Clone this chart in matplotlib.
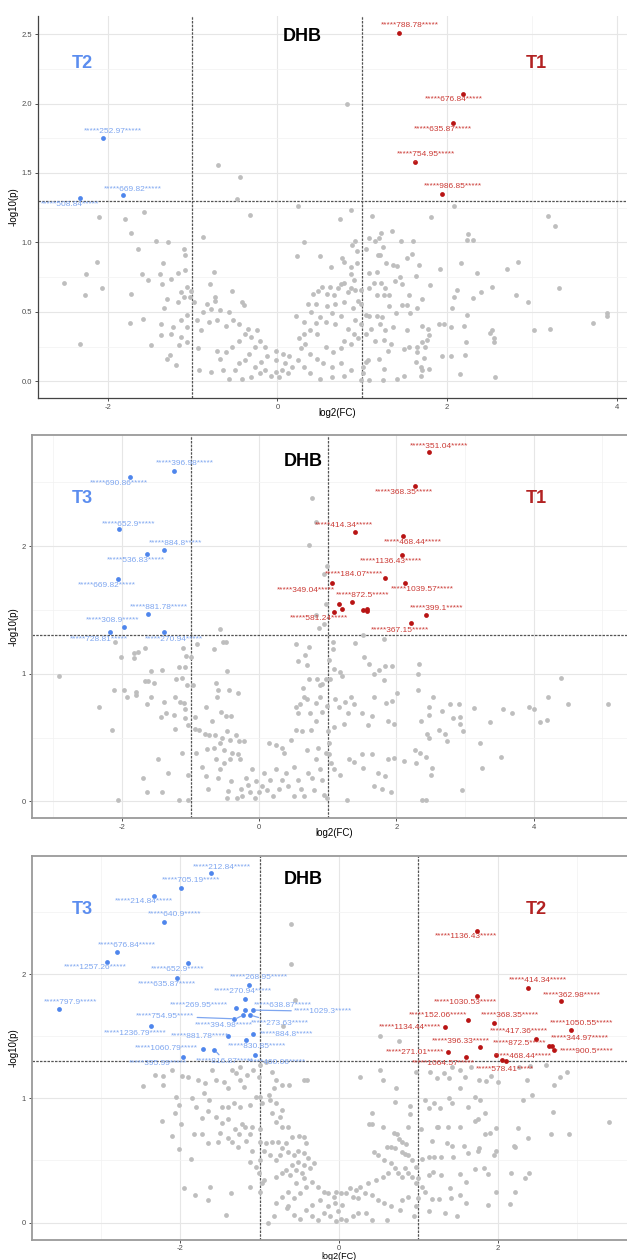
import numpy as np
import matplotlib.pyplot as plt
from matplotlib.ticker import MultipleLocator

plt.rcParams['font.family'] = ['Liberation Sans', 'DejaVu Sans']
plt.rcParams['axes.unicode_minus'] = False

# ---------------- panel 1 : T2 vs T1 ----------------
p1_gray = [(0.82, 2.00), (-0.70, 1.56), (-0.44, 1.47), (-0.47, 1.31), (-0.32, 1.20), (0.24, 1.26),
           (0.87, 1.23), (0.74, 1.17), (2.08, 1.26), (1.81, 1.18), (1.12, 1.19), (3.19, 1.19),
           (3.27, 1.12), (-1.57, 1.22), (-1.79, 1.17), (-2.10, 1.18), (-1.73, 1.07), (-1.43, 1.01),
           (-1.29, 1.00), (-0.88, 1.04), (-1.10, 0.95), (-1.64, 0.95), (-1.09, 0.91), (-1.35, 0.85),
           (-2.12, 0.86), (-2.25, 0.77), (-2.51, 0.71), (-2.07, 0.67), (-2.27, 0.62), (-1.73, 0.63),
           (-1.60, 0.77), (-1.52, 0.73), (-1.38, 0.77), (-1.36, 0.70), (-1.25, 0.74), (-1.17, 0.78),
           (-1.09, 0.80), (-0.75, 0.79), (-0.79, 0.70), (-0.73, 0.61), (-0.53, 0.65), (0.31, 1.00),
           (0.23, 0.90), (0.50, 0.90), (0.63, 0.82), (0.76, 0.89), (0.79, 0.86), (0.87, 0.82),
           (0.91, 1.01), (0.88, 0.98), (0.94, 0.94), (0.94, 0.85), (0.87, 0.77), (0.90, 0.73),
           (0.78, 0.71), (0.75, 0.70), (0.72, 0.67), (0.87, 0.67), (0.92, 0.66), (0.99, 0.66),
           (0.95, 0.58), (0.99, 0.56), (0.83, 0.64), (0.67, 0.62), (0.59, 0.63), (0.48, 0.65),
           (0.42, 0.63), (0.53, 0.68), (0.62, 0.68), (0.36, 0.56), (0.45, 0.56), (0.59, 0.54),
           (0.68, 0.56), (0.79, 0.57), (0.89, 0.53), (0.64, 0.49), (0.75, 0.47), (0.50, 0.46),
           (0.40, 0.50), (0.22, 0.47), (0.31, 0.43), (0.45, 0.42), (0.57, 0.43), (0.68, 0.41),
           (0.83, 0.38), (0.92, 0.44), (0.90, 0.34), (0.95, 0.31), (0.87, 0.27), (0.78, 0.29),
           (0.75, 0.24), (0.66, 0.21), (0.57, 0.25), (0.47, 0.34), (0.38, 0.37), (0.31, 0.34),
           (0.26, 0.31), (0.33, 0.27), (0.28, 0.24), (0.38, 0.20), (0.47, 0.16), (0.54, 0.13),
           (0.64, 0.10), (0.75, 0.13), (0.87, 0.08), (0.78, 0.04), (0.64, 0.03), (0.50, 0.02),
           (0.38, 0.06), (0.31, 0.10), (0.24, 0.15), (0.17, 0.10), (0.12, 0.06), (0.05, 0.08),
           (-0.02, 0.07), (0.02, 0.03), (-0.07, 0.04), (-0.14, 0.08), (-0.21, 0.06), (-0.26, 0.10),
           (-0.19, 0.14), (-0.12, 0.18), (-0.02, 0.15), (0.09, 0.13), (0.14, 0.18), (0.07, 0.20),
           (-0.02, 0.22), (-0.14, 0.25), (-0.21, 0.29), (-0.26, 0.25), (-0.33, 0.20), (-0.38, 0.15),
           (-0.45, 0.13), (-0.50, 0.08), (-0.57, 0.02), (-0.42, 0.02), (-0.31, 0.03), (-0.64, 0.08),
           (-0.68, 0.16), (-0.61, 0.21), (-0.54, 0.25), (-0.45, 0.29), (-0.38, 0.34), (-0.31, 0.32),
           (-0.24, 0.37), (-0.35, 0.38), (-0.45, 0.41), (-0.52, 0.44), (-0.61, 0.40), (-0.71, 0.44),
           (-0.80, 0.43), (-0.90, 0.37), (-0.95, 0.44), (-0.88, 0.50), (-0.78, 0.52), (-0.68, 0.51),
           (-0.57, 0.50), (-0.42, 0.57), (-0.39, 0.55), (-0.83, 0.56), (-0.73, 0.58), (-0.98, 0.57),
           (-0.94, 0.24), (-0.92, 0.08), (-0.78, 0.07), (-0.71, 0.22), (-1.06, 0.28), (-1.13, 0.32),
           (-1.06, 0.39), (-1.13, 0.44), (-1.06, 0.48), (-1.02, 0.65), (-1.03, 0.61), (-1.06, 0.68),
           (-1.13, 0.64), (-1.17, 0.57), (-1.10, 0.61), (-1.23, 0.39), (-1.25, 0.34), (-1.16, 0.26),
           (-1.37, 0.41), (-1.37, 0.33), (-1.30, 0.16), (-1.26, 0.19), (-1.19, 0.12), (-1.49, 0.26),
           (-1.58, 0.45), (-1.74, 0.42), (-2.32, 0.27), (-1.34, 0.53), (-1.30, 0.59),
           (1.05, 0.95), (1.08, 1.03), (1.15, 1.01), (1.20, 1.03), (1.22, 1.07), (1.35, 1.08),
           (1.25, 0.97), (1.19, 0.91), (1.21, 0.91), (1.28, 0.85), (1.36, 0.84), (1.41, 0.83),
           (1.46, 1.01), (1.60, 1.01), (1.53, 0.89), (1.59, 0.92), (1.67, 0.84), (1.45, 0.75),
           (1.63, 0.76), (1.08, 0.78), (1.18, 0.79), (1.14, 0.71), (1.22, 0.71), (1.27, 0.67),
           (1.39, 0.72), (1.47, 0.70), (1.08, 0.67), (1.18, 0.62), (1.26, 0.62), (1.32, 0.62),
           (1.55, 0.62), (1.71, 0.59), (1.80, 0.69), (1.92, 0.81), (2.16, 0.85), (2.35, 0.78),
           (2.12, 0.66), (2.08, 0.61), (2.06, 0.53), (2.31, 0.60), (2.40, 0.64), (2.53, 0.68),
           (2.71, 0.81), (2.83, 0.86), (2.81, 0.62), (2.95, 0.57), (2.23, 1.02), (2.25, 1.06),
           (2.30, 1.02), (1.05, 0.48), (1.08, 0.47), (1.17, 0.47), (1.23, 0.46), (1.32, 0.54),
           (1.40, 0.49), (1.47, 0.55), (1.53, 0.55), (1.56, 0.49), (1.64, 0.53), (0.99, 0.41),
           (1.10, 0.38), (1.21, 0.41), (1.27, 0.37), (1.36, 0.39), (1.53, 0.37), (1.71, 0.40),
           (1.77, 0.38), (1.90, 0.41), (1.96, 0.41), (2.05, 0.39), (2.20, 0.40), (2.23, 0.48),
           (2.50, 0.35), (2.53, 0.37), (2.55, 0.31), (2.55, 0.28), (3.02, 0.37), (3.21, 0.38),
           (3.32, 0.67), (3.72, 0.42), (3.88, 0.49), (3.89, 0.47), (1.05, 0.34), (1.15, 0.29),
           (1.26, 0.30), (1.34, 0.27), (1.30, 0.22), (1.49, 0.23), (1.55, 0.25), (1.65, 0.25),
           (1.71, 0.28), (1.74, 0.25), (1.76, 0.30), (1.79, 0.33), (1.65, 0.21), (1.73, 0.17),
           (1.63, 0.14), (1.69, 0.10), (1.71, 0.08), (1.69, 0.04), (1.79, 0.09), (1.94, 0.18),
           (2.05, 0.18), (2.22, 0.28), (2.21, 0.19), (2.15, 0.05), (2.57, 0.03), (1.04, 0.14),
           (1.01, 0.10), (1.07, 0.15), (1.20, 0.16), (1.26, 0.09), (1.24, 0.01), (1.08, 0.01),
           (1.41, 0.02), (1.49, 0.04), (1.01, 0.06), (0.99, 0.01)]

p1_down_names = ['252.97', '669.82', '508.84']
p1_down_x = [-2.06, -1.82, -2.32]
p1_down_y = [1.75, 1.34, 1.32]
p1_up_names = ['788.78', '676.84', '635.87', '754.95', '986.85']
p1_up_x = [1.43, 2.19, 2.07, 1.62, 1.94]
p1_up_y = [2.51, 2.07, 1.86, 1.58, 1.35]

# ---------------- panel 2 : T3 vs T1 ----------------
p2_gray = [(0.77, 2.38), (0.73, 2.01), (0.83, 2.19), (0.99, 1.84), (0.95, 1.78), (0.97, 1.55),
           (0.83, 1.46), (0.87, 1.36), (0.94, 1.39), (-0.57, 1.35), (-2.10, 1.25), (-2.02, 1.13),
           (-1.83, 1.16), (-1.77, 1.17), (-1.83, 1.12), (-1.66, 1.20), (-1.11, 1.20), (-0.90, 1.23),
           (-1.06, 1.14), (-1.00, 1.13), (-0.66, 1.19), (-0.52, 1.25), (-0.48, 1.25), (-1.57, 1.02),
           (-1.41, 1.03), (-1.17, 1.05), (-1.08, 1.05), (-0.47, 1.02), (-2.92, 0.98), (-2.33, 0.74),
           (-2.15, 0.56), (-2.12, 0.87), (-1.97, 0.87), (-1.92, 0.82), (-1.80, 0.86), (-1.80, 0.83),
           (-1.66, 0.94), (-1.62, 0.94), (-1.53, 0.93), (-1.63, 0.76), (-1.57, 0.82), (-1.38, 0.78),
           (-1.43, 0.66), (-1.36, 0.69), (-1.24, 0.68), (-1.21, 0.96), (-1.12, 0.97), (-1.23, 0.82),
           (-1.15, 0.78), (-1.10, 0.77), (-1.08, 0.72), (-1.05, 0.91), (-0.97, 0.91), (-1.08, 0.65),
           (-1.04, 0.60), (-1.22, 0.57), (-0.93, 0.66), (-0.78, 0.74), (-0.63, 0.93), (-0.60, 0.87),
           (-0.61, 0.82), (-0.44, 0.87), (-0.31, 0.85), (-0.68, 0.63), (-0.55, 0.70), (-0.48, 0.67),
           (-0.41, 0.67), (-0.94, 0.57), (-0.87, 0.56), (-0.79, 0.53), (-0.73, 0.52), (-0.64, 0.52),
           (-0.54, 0.50), (-0.47, 0.55), (-0.34, 0.52), (-0.57, 0.46), (-0.43, 0.48), (-0.30, 0.47),
           (-0.22, 0.47), (-0.66, 0.42), (-0.51, 0.40), (-0.40, 0.38), (-0.31, 0.37), (-0.28, 0.33),
           (-0.43, 0.33), (-0.51, 0.30), (-0.63, 0.33), (-0.76, 0.41), (-0.83, 0.27), (-0.92, 0.38),
           (-1.13, 0.38), (-1.17, 0.01), (-1.04, 0.01), (-1.04, 0.21), (-1.33, 0.22), (-1.48, 0.33),
           (-1.69, 0.18), (-1.63, 0.07), (-1.41, 0.07), (-2.05, 0.01), (-0.78, 0.20), (-0.75, 0.10),
           (-0.60, 0.18), (-0.57, 0.25), (-0.41, 0.16), (-0.45, 0.08), (-0.47, 0.03), (-0.33, 0.03),
           (-0.27, 0.10), (-0.19, 0.18), (-0.10, 0.25), (-0.16, 0.13), (-0.25, 0.04), (-0.13, 0.07),
           (-0.06, 0.03), (0.00, 0.07), (0.04, 0.12), (-0.05, 0.16), (0.07, 0.22), (0.16, 0.17),
           (0.12, 0.09), (0.20, 0.04), (0.29, 0.10), (0.33, 0.17), (0.24, 0.25), (0.39, 0.22),
           (0.42, 0.12), (0.51, 0.04), (0.61, 0.10), (0.57, 0.17), (0.51, 0.27), (0.36, 0.38),
           (0.33, 0.42), (0.14, 0.46), (0.24, 0.44), (0.47, 0.48), (0.54, 0.56), (0.62, 0.55),
           (0.76, 0.56), (0.57, 0.69), (0.59, 0.76), (0.54, 0.74), (0.70, 0.80), (0.65, 0.82),
           (0.64, 0.89), (0.89, 0.91), (0.92, 0.92), (0.85, 0.96), (0.73, 0.96), (0.97, 0.96),
           (1.03, 0.96), (0.89, 0.82), (0.83, 0.77), (0.74, 0.69), (0.83, 0.63), (0.92, 0.70),
           (0.99, 0.75), (1.11, 0.80), (1.17, 0.74), (1.25, 0.78), (1.34, 0.82), (1.38, 0.76),
           (1.29, 0.69), (1.24, 0.61), (1.09, 0.58), (1.01, 0.55), (1.02, 0.46), (0.97, 0.38),
           (0.86, 0.42), (0.83, 0.33), (0.89, 0.25), (0.92, 0.17), (0.77, 0.18), (0.80, 0.09),
           (0.94, 0.05), (0.99, 0.03), (0.65, 0.04), (0.71, 0.22), (0.69, 0.40), (1.02, 0.37),
           (1.04, 0.30), (1.09, 0.25), (1.18, 0.21), (1.31, 0.33), (1.38, 0.31), (1.28, 0.01),
           (1.50, 0.37), (1.64, 0.37), (1.51, 0.26), (1.73, 0.22), (1.67, 0.12), (1.79, 0.10),
           (1.92, 0.07), (1.84, 0.20), (1.88, 0.33), (1.97, 0.34), (2.11, 0.32), (2.27, 0.40),
           (2.34, 0.38), (2.43, 0.35), (2.29, 0.30), (2.52, 0.26), (2.51, 0.21), (2.37, 0.01),
           (2.43, 0.01), (2.96, 0.09), (3.25, 0.26), (3.53, 0.35), (3.22, 0.46), (2.73, 0.47),
           (2.71, 0.53), (2.62, 0.56), (2.97, 0.55), (2.93, 0.61), (2.83, 0.65), (2.92, 0.66),
           (2.66, 0.71), (2.78, 0.76), (2.91, 0.76), (3.13, 0.73), (3.37, 0.62), (3.56, 0.72),
           (3.68, 0.69), (3.93, 0.74), (4.01, 0.72), (4.09, 0.62), (4.19, 0.64), (4.21, 0.82),
           (4.40, 0.97), (4.50, 0.76), (5.08, 0.76), (2.36, 0.63), (2.48, 0.68), (2.48, 0.74),
           (2.53, 0.82), (2.31, 0.87), (2.32, 1.00), (2.33, 1.08), (2.45, 0.53), (2.48, 0.50),
           (2.01, 0.85), (1.93, 0.79), (1.85, 0.77), (1.82, 0.95), (1.84, 1.06), (1.94, 1.06),
           (1.74, 1.03), (1.67, 1.00), (1.60, 1.08), (1.53, 1.13), (1.40, 1.24), (1.52, 1.30),
           (1.82, 1.27), (1.18, 1.01), (1.21, 0.98), (1.08, 1.19), (1.08, 1.25), (1.67, 0.82),
           (1.58, 0.60), (1.65, 0.67), (1.50, 0.69), (1.88, 0.63), (1.96, 0.61), (0.54, 1.23),
           (0.72, 1.21), (0.67, 1.15), (0.57, 1.10), (0.69, 1.07), (1.02, 1.11), (1.09, 1.04)]

p2_down_names = ['396.98', '690.86', '652.9', '884.8', '536.83', '669.82', '881.78', '308.9',
                 '728.81', '270.94']
p2_down_x = [-1.24, -1.88, -2.04, -1.38, -1.64, -2.06, -1.62, -1.97, -2.17, -1.39]
p2_down_y = [2.59, 2.54, 2.13, 1.97, 1.94, 1.74, 1.47, 1.37, 1.33, 1.33]
p2_up_names = ['351.04', '368.35', '414.34', '468.44', '1136.43', '184.07', '349.04', '1039.57',
               '872.5', '581.24', '399.1', '367.15', '', '', '', '', '']
p2_up_x = [2.47, 2.27, 1.39, 2.09, 2.08, 1.83, 1.06, 2.12, 1.35, 1.09, 2.43, 2.21,
           1.17, 1.21, 1.51, 1.57, 1.57]
p2_up_y = [2.74, 2.47, 2.11, 2.08, 1.93, 1.75, 1.71, 1.71, 1.56, 1.48, 1.46, 1.40,
           1.55, 1.51, 1.50, 1.51, 1.49]

# ---------------- panel 3 : T3 vs T2 ----------------
p3_gray = [(-0.61, 2.40), (-0.61, 2.08), (-0.56, 1.79), (-0.70, 1.58), (0.52, 1.50), (0.75, 1.46),
           (0.27, 1.17), (0.52, 1.23), (0.55, 1.15), (0.72, 1.08), (0.71, 0.97), (0.90, 0.94),
           (0.90, 0.87), (0.41, 0.88), (0.38, 0.79), (0.41, 0.79), (0.56, 0.77), (0.87, 0.77),
           (0.69, 0.72), (0.73, 0.71), (0.76, 0.67), (0.79, 0.65), (0.85, 0.63), (0.83, 0.55),
           (0.87, 0.54), (0.60, 0.61), (0.65, 0.61), (0.70, 0.60), (0.80, 0.57), (0.44, 0.57),
           (0.49, 0.54), (0.57, 0.50), (0.65, 0.48), (0.70, 0.44), (0.74, 0.40), (0.80, 0.37),
           (0.83, 0.44), (0.87, 0.40), (0.92, 0.37), (0.97, 0.32), (0.97, 0.45), (0.92, 0.50),
           (0.62, 0.40), (0.55, 0.37), (0.47, 0.34), (0.37, 0.32), (0.27, 0.29), (0.21, 0.26),
           (0.14, 0.28), (0.09, 0.24), (0.17, 0.21), (0.24, 0.20), (0.33, 0.24), (0.42, 0.22),
           (0.49, 0.18), (0.57, 0.16), (0.65, 0.13), (0.77, 0.10), (0.60, 0.02), (0.42, 0.02),
           (0.34, 0.08), (0.24, 0.08), (0.17, 0.05), (0.09, 0.02), (0.02, 0.03), (-0.04, 0.01),
           (-0.11, 0.05), (-0.01, 0.09), (0.04, 0.14), (-0.05, 0.16), (-0.14, 0.13), (-0.19, 0.08),
           (-0.26, 0.02), (-0.34, 0.05), (-0.41, 0.10), (-0.34, 0.14), (-0.24, 0.18), (-0.14, 0.24),
           (-0.04, 0.25), (0.03, 0.24), (-0.06, 0.21), (-0.19, 0.25), (-0.26, 0.29), (-0.34, 0.33),
           (-0.41, 0.29), (-0.49, 0.24), (-0.57, 0.20), (-0.64, 0.13), (-0.49, 0.03), (-0.57, 0.06),
           (-0.65, 0.12), (-0.79, 0.16), (-0.90, 0.00), (-0.82, 0.05), (-0.72, 0.21), (-0.64, 0.25),
           (-0.54, 0.32), (-0.44, 0.36), (-0.47, 0.40), (-0.54, 0.42), (-0.62, 0.38), (-0.72, 0.40),
           (-0.79, 0.37), (-0.67, 0.42), (-0.59, 0.46), (-0.52, 0.49), (-0.44, 0.46), (-0.36, 0.44),
           (-0.31, 0.48), (-0.39, 0.52), (-0.44, 0.56), (-0.52, 0.58), (-0.57, 0.54), (-0.64, 0.57),
           (-0.72, 0.60), (-0.74, 0.54), (-0.79, 0.50), (-0.87, 0.54), (-0.94, 0.58), (-0.99, 0.65),
           (-0.92, 0.64), (-0.84, 0.65), (-0.77, 0.65), (-0.67, 0.64), (-0.59, 0.69), (-0.50, 0.70),
           (-0.44, 0.69), (-0.41, 0.64), (-0.64, 0.77), (-0.72, 0.77), (-0.79, 0.81), (-0.84, 0.88),
           (-0.74, 0.85), (-0.72, 0.91), (-0.79, 0.96), (-0.87, 0.99), (-0.88, 1.03), (-0.82, 1.08),
           (-0.79, 1.15), (-0.72, 1.11), (-0.63, 1.11), (-0.44, 1.15), (-0.40, 1.15), (-0.92, 1.29),
           (-0.99, 1.27), (-1.01, 1.17), (-0.84, 1.21), (-0.99, 1.01), (-0.97, 0.96), (-0.99, 0.75),
           (-0.97, 0.32), (-0.94, 0.34), (-0.99, 0.50), (-1.01, 0.40), (-0.99, 0.25), (-1.05, 0.45),
           (-2.47, 1.10), (-2.32, 1.19), (-2.22, 1.18), (-2.22, 1.11), (-2.11, 1.23), (-1.98, 1.18),
           (-2.06, 1.01), (-2.02, 0.95), (-2.23, 0.82), (-2.07, 0.88), (-1.99, 0.79), (-2.10, 0.70),
           (-2.02, 0.59), (-1.86, 0.51), (-1.95, 0.28), (-1.82, 0.22), (-1.65, 0.18), (-1.63, 0.29),
           (-1.42, 0.06), (-1.36, 0.24), (-1.12, 0.49), (-1.12, 0.29), (-1.90, 1.17), (-1.78, 1.15),
           (-1.70, 1.04), (-1.85, 1.00), (-1.80, 0.93), (-1.73, 0.84), (-1.83, 0.71), (-1.73, 0.71),
           (-1.65, 0.64), (-1.60, 1.23), (-1.55, 1.15), (-1.45, 1.13), (-1.40, 1.08), (-1.30, 1.20),
           (-1.25, 1.15), (-1.20, 1.09), (-1.16, 1.19), (-1.08, 1.23), (-1.05, 1.01), (-1.12, 0.95),
           (-1.22, 0.79), (-1.19, 0.77), (-1.10, 0.77), (-1.25, 0.93), (-1.32, 0.96), (-1.40, 0.93),
           (-1.48, 0.93), (-1.55, 0.85), (-1.48, 0.80), (-1.40, 0.83), (-1.50, 0.72), (-1.40, 0.68),
           (-1.31, 0.75), (-1.26, 0.71), (-1.17, 0.66), (-1.12, 0.71), (-1.10, 0.58), (-1.27, 0.61),
           (-1.35, 0.65), (-1.53, 0.65), (-1.65, 0.90), (-1.64, 0.99), (-1.69, 1.12), (-1.25, 1.25),
           (-1.35, 1.23),
           (0.97, 1.21), (1.15, 1.21), (1.24, 1.16), (1.32, 1.20), (1.38, 1.16), (1.43, 1.25),
           (1.52, 1.23), (1.59, 1.17), (1.66, 1.25), (1.76, 1.15), (1.85, 1.14), (1.92, 1.18),
           (2.00, 1.13), (2.27, 1.25), (2.41, 1.26), (2.61, 1.27), (2.78, 1.17), (2.87, 1.21),
           (2.71, 1.11), (2.37, 1.15), (2.43, 1.03), (2.32, 0.99), (2.70, 0.89), (2.67, 0.71),
           (2.90, 0.71), (3.40, 0.81), (2.38, 0.68), (2.26, 0.76), (2.21, 0.62), (2.22, 0.61),
           (1.98, 0.58), (1.98, 0.76), (1.84, 0.71), (1.90, 0.72), (1.71, 0.82), (1.75, 0.83),
           (1.84, 0.88), (1.62, 0.93), (1.72, 1.01), (1.78, 0.99), (1.52, 1.08), (1.43, 0.96),
           (1.38, 1.00), (1.27, 0.92), (1.20, 0.96), (1.14, 0.92), (1.08, 0.99), (1.25, 0.77),
           (1.23, 0.77), (1.37, 0.77), (1.52, 0.77), (1.17, 0.66), (1.03, 0.75), (1.36, 0.64),
           (1.43, 0.62), (1.57, 0.62), (1.62, 0.56), (1.75, 0.58), (1.77, 0.60), (1.83, 0.44),
           (1.95, 0.54), (1.04, 0.51), (1.13, 0.53), (1.20, 0.53), (1.28, 0.53), (1.44, 0.53),
           (1.18, 0.41), (1.13, 0.38), (1.00, 0.36), (1.04, 0.29), (1.08, 0.25), (1.17, 0.19),
           (1.00, 0.20), (1.26, 0.19), (1.41, 0.20), (1.29, 0.38), (1.40, 0.28), (1.52, 0.39),
           (1.60, 0.33), (1.53, 0.22), (1.60, 0.16), (1.72, 0.43), (1.88, 0.39), (1.98, 0.25),
           (2.17, 0.40), (2.22, 0.25), (2.35, 0.36), (2.40, 0.40), (1.88, 0.14), (2.16, 0.15),
           (1.49, 0.05), (1.33, 0.08), (1.13, 0.09), (0.95, 0.05), (0.80, 0.18), (0.87, 0.21),
           (0.97, 0.13)]

p3_down_names = ['212.84', '705.19', '214.84', '640.9', '676.84', '1257.26', '652.9', '635.87',
                 '797.9', '268.95', '270.94', '269.95', '638.87', '1029.3', '394.98', '754.95',
                 '273.63', '1236.79', '881.78', '884.8', '830.85', '1060.79', '816.87', '395.99',
                 '460.06']
p3_down_x = [-1.61, -1.99, -2.33, -2.21, -2.80, -2.93, -1.90, -2.04, -3.53, -1.14, -1.18, -1.30,
             -1.19, -1.08, -1.21, -1.32, -1.12, -2.37, -1.40, -1.08, -1.17, -1.72, -1.57, -1.97,
             -1.06]
p3_down_y = [2.81, 2.69, 2.63, 2.42, 2.18, 2.10, 2.09, 1.97, 1.72, 1.91, 1.80, 1.73, 1.71, 1.71,
             1.67, 1.64, 1.67, 1.58, 1.50, 1.52, 1.47, 1.40, 1.39, 1.33, 1.35]
p3_up_names = ['1136.43', '414.34', '362.98', '1030.53', '152.06', '368.35', '1134.44', '1050.55',
               '417.36', '396.33', '344.97', '', '900.5', '872.5', '271.01', '468.44', '1064.57',
               '578.41']
p3_up_x = [1.74, 2.38, 2.80, 1.74, 1.63, 1.95, 1.33, 2.92, 2.48, 1.78, 2.65, 2.68, 2.71, 1.98,
           1.37, 2.06, 1.60, 2.10]
p3_up_y = [2.35, 1.89, 1.78, 1.82, 1.63, 1.61, 1.57, 1.55, 1.48, 1.41, 1.42, 1.42, 1.39, 1.35,
           1.37, 1.31, 1.33, 1.30]

# ---------------- layout (label placement, panel geometry) ----------------
p1_down_lab = [(-1.94, 1.80), (-1.70, 1.38), (-2.44, 1.27)]
p1_up_lab = [(1.56, 2.56), (2.08, 2.03), (1.95, 1.81), (1.75, 1.63), (2.07, 1.40)]
p2_down_lab = [(-1.08, 2.65), (-2.04, 2.49), (-1.90, 2.17), (-1.22, 2.02), (-1.80, 1.89),
               (-2.22, 1.69), (-1.46, 1.52), (-2.13, 1.42), (-2.33, 1.27), (-1.24, 1.27)]
p2_up_lab = [(2.62, 2.78), (2.11, 2.42), (1.23, 2.16), (2.24, 2.03), (1.92, 1.88), (1.38, 1.78),
             (0.68, 1.65), (2.38, 1.66), (1.51, 1.61), (0.87, 1.43), (2.58, 1.51), (2.05, 1.34),
             None, None, None, None, None]
p3_down_lab = [(-1.47, 2.86), (-1.86, 2.75), (-2.46, 2.58), (-2.07, 2.48), (-2.67, 2.23),
               (-3.07, 2.05), (-2.03, 2.04), (-2.17, 1.92), (-3.39, 1.77), (-1.01, 1.97),
               (-1.21, 1.86), (-1.76, 1.75), (-0.71, 1.75), (-0.20, 1.70), (-1.45, 1.59),
               (-2.19, 1.66), (-0.74, 1.60), (-2.57, 1.52), (-1.75, 1.50), (-0.66, 1.51),
               (-1.04, 1.42), (-2.17, 1.40), (-1.44, 1.30), (-2.28, 1.28), (-0.78, 1.29)]
p3_up_lab = [(1.60, 2.30), (2.51, 1.95), (2.93, 1.83), (1.59, 1.77), (1.25, 1.67), (2.16, 1.67),
             (0.90, 1.57), (3.06, 1.60), (2.27, 1.54), (1.54, 1.46), (3.03, 1.48), None,
             (3.12, 1.38), (2.28, 1.44), (0.96, 1.37), (2.32, 1.34), (1.32, 1.28), (2.09, 1.23)]
with_segment = {'754.95', '394.98', '273.63', '1029.3', '816.87', '900.5'}

GRAY = '#BEBEBE'
BLUE_PT, BLUE_TX = '#4F86EC', '#7EA6F0'
RED_PT, RED_TX = '#B81414', '#CB3A35'

fig = plt.figure(figsize=(6.27, 12.6), dpi=100)


def px_axes(left, top, bottom, right=627):
    return fig.add_axes([left / 627, 1 - bottom / 1260, (right - left) / 627, (bottom - top) / 1260])


def draw_labels(ax, xs, ys, names, labpos, color):
    for x, y, n, lp in zip(xs, ys, names, labpos):
        if not n or lp is None:
            continue
        s = '*****' + n + '*****'
        if n in with_segment:
            ax.annotate(s, xy=(x, y), xytext=lp, ha='center', va='center', fontsize=6.0,
                        color=color, arrowprops=dict(arrowstyle='-', color=color, lw=0.9,
                                                     shrinkA=0, shrinkB=2))
        else:
            ax.text(lp[0], lp[1], s, ha='center', va='center', fontsize=6.0, color=color)


def panel(ax, gray, dn, up, xlim, ylim, yminor, ystep, left_name, right_name, txt_pos,
          xlabel_xy, full_box, xlabel_size=7):
    g = np.array(gray)
    ax.set_xlim(*xlim)
    ax.set_ylim(*ylim)
    ax.xaxis.set_major_locator(MultipleLocator(2))
    ax.xaxis.set_minor_locator(MultipleLocator(1))
    ax.yaxis.set_major_locator(MultipleLocator(ystep))
    ax.yaxis.set_minor_locator(MultipleLocator(yminor))
    ax.grid(which='major', color='#E6E6E6', lw=0.8)
    ax.grid(which='minor', color='#F2F2F2', lw=0.5)
    ax.set_axisbelow(True)
    ax.tick_params(which='minor', length=0)
    ax.tick_params(which='major', length=2.5, width=0.6, labelsize=5.5, labelcolor='#4D4D4D',
                   color='#333333', pad=2)
    if ystep == 0.5:
        ax.yaxis.set_major_formatter(plt.FormatStrFormatter('%.1f'))
    else:
        ax.yaxis.set_major_formatter(plt.FormatStrFormatter('%d'))
    ax.axvline(-1, color='#555555', ls=(0, (2, 1)), lw=0.9)
    ax.axvline(1, color='#555555', ls=(0, (2, 1)), lw=0.9)
    ax.axhline(-np.log10(0.05), color='#555555', ls=(0, (2, 1)), lw=0.9)
    ax.scatter(g[:, 0], g[:, 1], s=12, color=GRAY, lw=0, zorder=2)
    dx, dy, dnames, dlab = dn
    ux, uy, unames, ulab = up
    ax.scatter(dx, dy, s=12, color=BLUE_PT, lw=0, zorder=3)
    ax.scatter(ux, uy, s=12, color=RED_PT, lw=0, zorder=3)
    draw_labels(ax, dx, dy, dnames, dlab, BLUE_TX)
    draw_labels(ax, ux, uy, unames, ulab, RED_TX)
    (lx, ly), (rx, ry), (cx, cy) = txt_pos
    ax.text(lx, ly, left_name, color='#5B8DEF', fontsize=13, fontweight='bold', ha='center', va='center')
    ax.text(rx, ry, right_name, color='#B22222', fontsize=13, fontweight='bold', ha='center', va='center')
    ax.text(cx, cy, 'DHB', color='black', fontsize=13, fontweight='bold', ha='center', va='center')
    ax.set_xlabel('log2(FC)', fontsize=xlabel_size)
    ax.set_ylabel('-log10(p)', fontsize=7, labelpad=2)
    ax.xaxis.set_label_coords(*xlabel_xy)
    ax.spines['right'].set_visible(False)
    if full_box:
        for sp in ('left', 'bottom', 'top'):
            ax.spines[sp].set_color('#9A9A9A')
            ax.spines[sp].set_linewidth(1.3)
    else:
        ax.spines['top'].set_visible(False)
        for sp in ('left', 'bottom'):
            ax.spines[sp].set_color('#444444')
            ax.spines[sp].set_linewidth(0.9)


ax1 = px_axes(38, 16, 398)
panel(ax1, p1_gray, (p1_down_x, p1_down_y, p1_down_names, p1_down_lab),
      (p1_up_x, p1_up_y, p1_up_names, p1_up_lab), (-2.82, 4.12), (-0.12, 2.63), 0.25, 0.5,
      'T2', 'T1', ((-2.30, 2.29), (3.05, 2.29), (0.29, 2.48)), (0.508, -0.025), False)

ax2 = px_axes(32, 435, 818)
panel(ax2, p2_gray, (p2_down_x, p2_down_y, p2_down_names, p2_down_lab),
      (p2_up_x, p2_up_y, p2_up_names, p2_up_lab), (-3.31, 5.36), (-0.13, 2.87), 0.5, 1,
      'T3', 'T1', ((-2.57, 2.37), (4.04, 2.37), (0.64, 2.66)), (0.508, -0.025), True)

ax3 = px_axes(32, 856, 1240)
panel(ax3, p3_gray, (p3_down_x, p3_down_y, p3_down_names, p3_down_lab),
      (p3_up_x, p3_up_y, p3_up_names, p3_up_lab), (-3.87, 3.63), (-0.14, 2.95), 0.5, 1,
      'T3', 'T2', ((-3.23, 2.52), (2.49, 2.52), (-0.45, 2.76)), (0.516, -0.030), True,
      xlabel_size=6.5)
ax3.tick_params(axis='x', pad=1)

fig.savefig('out.png', dpi=100)
